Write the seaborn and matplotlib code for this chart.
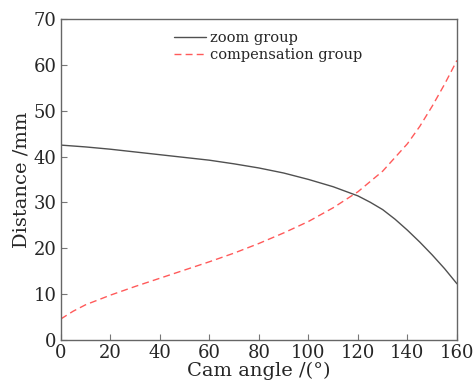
import numpy as np
import pandas as pd
import matplotlib
matplotlib.use("Agg")
import matplotlib.pyplot as plt
import seaborn as sns

# values
zoom_angle = [0, 10, 20, 30, 40, 50, 60, 70, 80, 90, 100, 110, 120, 125, 130, 135, 140, 145, 150, 155, 160]
zoom_dist = [42.5, 42.1, 41.6, 41.0, 40.4, 39.8, 39.2, 38.4, 37.5, 36.4, 35.0, 33.4, 31.4, 30.0, 28.4, 26.3, 23.9, 21.3, 18.5, 15.5, 12.2]
comp_angle = [0, 5, 10, 20, 30, 40, 50, 60, 70, 80, 90, 100, 110, 120, 130, 140, 145, 150, 155, 160]
comp_dist = [4.5, 6.2, 7.6, 9.7, 11.6, 13.4, 15.2, 17.0, 18.9, 21.0, 23.3, 25.8, 28.8, 32.3, 36.8, 42.8, 46.6, 51.0, 55.8, 61.0]

sns.set_theme(style="ticks")
plt.rcParams['font.family'] = ['DejaVu Serif']

zoom_df = pd.DataFrame({'angle': zoom_angle, 'dist': zoom_dist})
comp_df = pd.DataFrame({'angle': comp_angle, 'dist': comp_dist})

fig, ax = plt.subplots(figsize=(4.75, 3.85), dpi=100)
sns.lineplot(data=zoom_df, x='angle', y='dist', ax=ax, color='#505050',
             linewidth=1.0, label='zoom group')
sns.lineplot(data=comp_df, x='angle', y='dist', ax=ax, color='#ff5a5a',
             linewidth=1.0, linestyle=(0, (5, 3)), label='compensation group')

ax.set_xlim(0, 160)
ax.set_ylim(0, 70)
ax.set_xticks(np.arange(0, 161, 20))
ax.set_yticks(np.arange(0, 71, 10))
ax.tick_params(direction='in', length=4, width=0.8, color='#777777',
               labelsize=13, pad=3)
for s in ax.spines.values():
    s.set_color('#666666')
    s.set_linewidth(1.0)
ax.set_xlabel('Cam angle /(°)', fontsize=14, labelpad=0)
ax.set_ylabel('Distance /mm', fontsize=14, labelpad=2)

ax.legend(loc='upper left', bbox_to_anchor=(0.27, 0.98), frameon=False,
          fontsize=10.5, handlelength=2.2, handletextpad=0.3,
          labelspacing=0.15, borderaxespad=0)

fig.subplots_adjust(left=0.128, right=0.962, top=0.95, bottom=0.118)
fig.savefig('out.png', dpi=100)
